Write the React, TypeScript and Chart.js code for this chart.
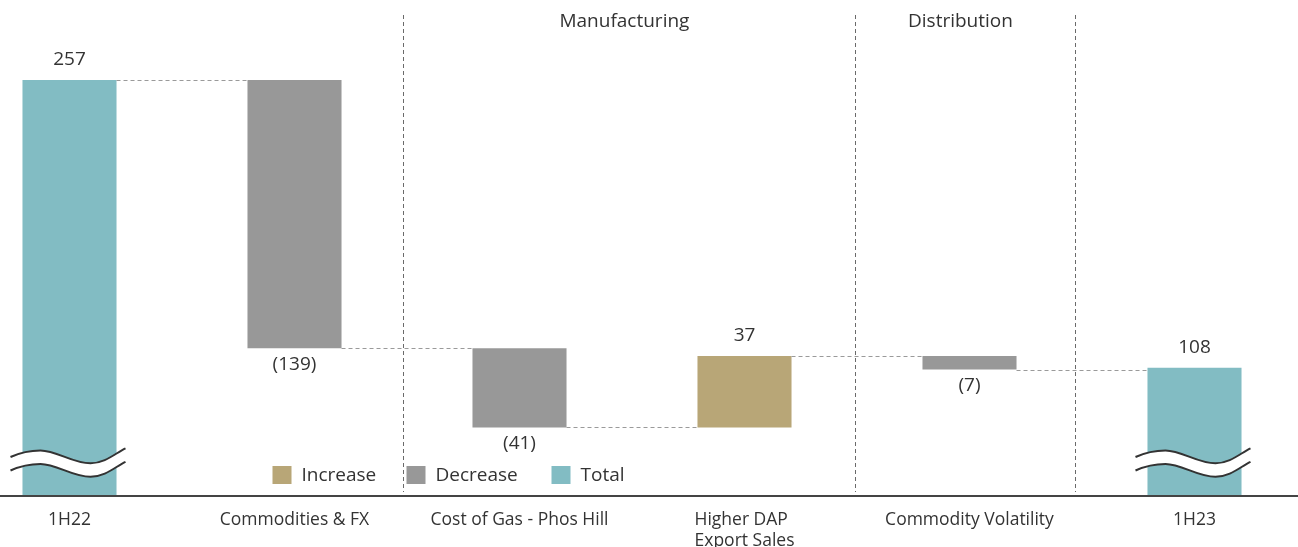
import React, { useEffect, useRef } from "react";
import { Chart, registerables } from "chart.js";

Chart.register(...registerables);

const categories: (string | string[])[] = [
  "1H22",
  "Commodities & FX",
  "Cost of Gas - Phos Hill",
  ["Higher DAP", "Export Sales"],
  "Commodity Volatility",
  "1H23",
];
const changes = [257, -139, -41, 37, -7, 108];
const kinds = ["total", "decrease", "decrease", "increase", "decrease", "total"];
const valueLabels = ["257", "(139)", "(41)", "37", "(7)", "108"];
const sectionTitles = ["Manufacturing", "Distribution"];
const legendItems = ["Increase", "Decrease", "Total"];

// layout constants (not data)
const AXIS_MIN = 42;
const AXIS_MAX = 298.5;
const SEPARATORS = [1.484, 3.493, 4.471]; // in category units
const FONT = "'Open Sans', 'DejaVu Sans', sans-serif";
const COLORS: Record<string, string> = {
  increase: "#b8a677",
  decrease: "#989898",
  total: "#82bcc3",
};
const TEXT = "#333333";

function buildBars() {
  const out: [number, number][] = [];
  const ends: number[] = [];
  let running = 0;
  changes.forEach((v, i) => {
    if (kinds[i] === "total") {
      out.push([AXIS_MIN, v]);
      running = v;
      ends.push(v);
    } else {
      out.push([running, running + v]);
      running += v;
      ends.push(running);
    }
  });
  return { out, ends };
}

export default function App() {
  const ref = useRef<HTMLCanvasElement | null>(null);
  useEffect(() => {
    if (!ref.current) return;
    const { out, ends } = buildBars();

    const overlay = {
      id: "overlay",
      beforeDatasetsDraw(chart: any) {
        const ctx = chart.ctx;
        const xs = chart.scales.x;
        const step = xs.getPixelForValue(1) - xs.getPixelForValue(0);
        ctx.save();
        ctx.strokeStyle = "#6a6a6a";
        ctx.lineWidth = 1;
        ctx.setLineDash([4, 3]);
        SEPARATORS.forEach((s) => {
          const px = Math.round(xs.getPixelForValue(0) + s * step) + 0.5;
          ctx.beginPath();
          ctx.moveTo(px, 15);
          ctx.lineTo(px, 492);
          ctx.stroke();
        });
        ctx.restore();
      },
      afterDatasetsDraw(chart: any) {
        const ctx = chart.ctx;
        const xs = chart.scales.x;
        const ys = chart.scales.y;
        const meta = chart.getDatasetMeta(0);
        const step = xs.getPixelForValue(1) - xs.getPixelForValue(0);
        const sepPx = SEPARATORS.map((s) => xs.getPixelForValue(0) + s * step);
        ctx.save();

        // connectors
        ctx.strokeStyle = "#9a9a9a";
        ctx.lineWidth = 1;
        ctx.setLineDash([4, 3]);
        for (let i = 0; i < meta.data.length - 1; i++) {
          const a = meta.data[i];
          const b = meta.data[i + 1];
          const y = Math.round(ys.getPixelForValue(ends[i])) + 0.5;
          ctx.beginPath();
          ctx.moveTo(a.x + a.width / 2, y);
          ctx.lineTo(b.x - b.width / 2, y);
          ctx.stroke();
        }
        ctx.setLineDash([]);

        // break symbols on totals
        meta.data.forEach((bar: any, i: number) => {
          if (kinds[i] !== "total") return;
          const cx = bar.x;
          const wave = (dy: number, move: boolean) => {
            if (move) ctx.moveTo(cx - 59, 457 + dy);
            ctx.bezierCurveTo(cx - 49, 452.5 + dy, cx - 40, 450.5 + dy, cx - 29, 450.5 + dy);
            ctx.bezierCurveTo(cx - 13, 450.5 + dy, cx + 3, 463.3 + dy, cx + 21, 463.3 + dy);
            ctx.bezierCurveTo(cx + 36, 463.3 + dy, cx + 46, 453 + dy, cx + 56, 448.3 + dy);
          };
          const waveRev = (dy: number) => {
            ctx.bezierCurveTo(cx + 46, 453 + dy, cx + 36, 463.3 + dy, cx + 21, 463.3 + dy);
            ctx.bezierCurveTo(cx + 3, 463.3 + dy, cx - 13, 450.5 + dy, cx - 29, 450.5 + dy);
            ctx.bezierCurveTo(cx - 40, 450.5 + dy, cx - 49, 452.5 + dy, cx - 59, 457 + dy);
          };
          const th = 13.5;
          ctx.beginPath();
          wave(0, true);
          ctx.lineTo(cx + 56, 448.3 + th);
          waveRev(th);
          ctx.closePath();
          ctx.fillStyle = "#ffffff";
          ctx.fill();
          ctx.strokeStyle = "#333333";
          ctx.lineWidth = 2;
          ctx.beginPath();
          wave(0, true);
          ctx.stroke();
          ctx.beginPath();
          wave(th, true);
          ctx.stroke();
        });

        // value labels
        ctx.fillStyle = TEXT;
        ctx.font = `19px ${FONT}`;
        ctx.textAlign = "center";
        ctx.textBaseline = "middle";
        meta.data.forEach((bar: any, i: number) => {
          const raw = out[i];
          const top = ys.getPixelForValue(Math.max(raw[0], raw[1]));
          const bot = ys.getPixelForValue(Math.min(raw[0], raw[1]));
          if (kinds[i] === "decrease") ctx.fillText(valueLabels[i], bar.x, bot + 16);
          else ctx.fillText(valueLabels[i], bar.x, top - 20);
        });

        // section titles
        ctx.font = `19px ${FONT}`;
        sectionTitles.forEach((t, i) => {
          const mid = (sepPx[i] + sepPx[i + 1]) / 2 - 5;
          ctx.fillText(t, mid, 22);
        });

        // axis line
        const bottom = chart.chartArea.bottom;
        ctx.strokeStyle = "#444444";
        ctx.lineWidth = 2;
        ctx.beginPath();
        ctx.moveTo(0, bottom + 1);
        ctx.lineTo(chart.width, bottom + 1);
        ctx.stroke();

        // category labels
        ctx.font = `17.5px ${FONT}`;
        ctx.fillStyle = TEXT;
        categories.forEach((c, i) => {
          const cx = xs.getPixelForValue(i);
          if (Array.isArray(c)) {
            const w = Math.max(...c.map((l) => ctx.measureText(l).width));
            ctx.textAlign = "left";
            c.forEach((l, j) => ctx.fillText(l, cx - w / 2, 520 + j * 21));
          } else {
            ctx.textAlign = "center";
            ctx.fillText(c, cx, 520);
          }
        });

        // legend
        const legendX = xs.getPixelForValue(1) - 22;
        const legendGap = [0, 134, 279];
        const legendKinds = ["increase", "decrease", "total"];
        ctx.font = `19px ${FONT}`;
        ctx.textAlign = "left";
        legendItems.forEach((t, i) => {
          const lx = legendX + legendGap[i];
          ctx.fillStyle = COLORS[legendKinds[i]];
          ctx.fillRect(lx, 466, 19, 18);
          ctx.fillStyle = TEXT;
          ctx.fillText(t, lx + 29, 476);
        });

        ctx.restore();
      },
    };

    const chart = new Chart(ref.current, {
      type: "bar",
      data: {
        labels: categories as any,
        datasets: [
          {
            data: out as any,
            backgroundColor: kinds.map((k) => COLORS[k]),
            borderWidth: 0,
            barPercentage: 0.418,
            categoryPercentage: 1,
          },
        ],
      },
      options: {
        animation: false,
        responsive: true,
        maintainAspectRatio: false,
        layout: { padding: { top: 0, bottom: 52, left: 0, right: 0 } },
        plugins: { legend: { display: false }, tooltip: { enabled: false } },
        scales: {
          x: { display: false },
          y: { display: false, min: AXIS_MIN, max: AXIS_MAX },
        },
      },
      plugins: [overlay],
    });
    return () => chart.destroy();
  }, []);

  return (
    <div
      style={{
        position: "fixed",
        left: 0,
        top: 0,
        width: 1298,
        height: 547,
        overflow: "hidden",
        background: "#ffffff",
      }}
    >
      <div style={{ position: "absolute", left: -43, top: 0, width: 1350, height: 547 }}>
        <canvas ref={ref} />
      </div>
    </div>
  );
}
